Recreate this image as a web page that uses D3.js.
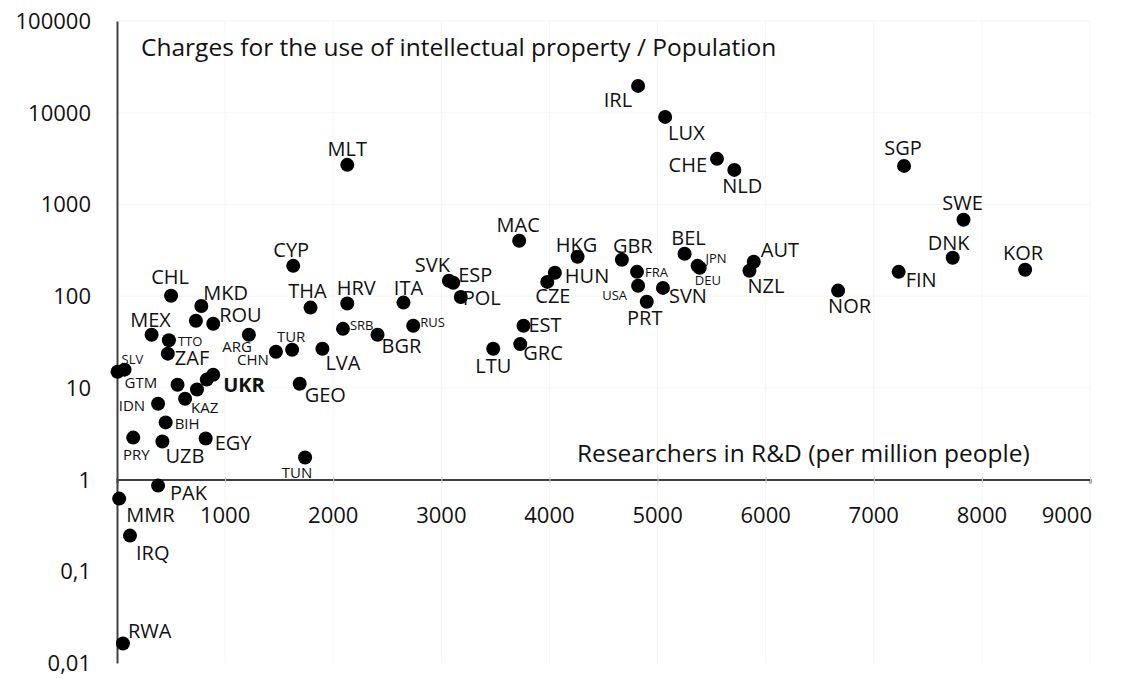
<!DOCTYPE html>
<html lang="en">
<head>
    <meta charset="UTF-8">
    <title>Researchers vs IP charges</title>
    <script src="https://cdn.jsdelivr.net/npm/d3@7"></script>
    <style>
        body {
            margin: 0;
            background: white;
        }

        text {
            font-family: "Open Sans", "Noto Sans", sans-serif;
            fill: #111;
        }
    </style>
</head>
<body>

<svg id="chart" width="1125" height="679"></svg>

<script>
    // data
    let countries = ["MLT", "IRL", "LUX", "CHE", "NLD", "SGP", "SWE", "DNK", "KOR", "FIN",
        "NOR", "NZL", "AUT", "BEL", "JPN", "DEU", "GBR", "FRA", "USA", "SVN",
        "PRT", "HKG", "HUN", "CZE", "MAC", "EST", "GRC", "LTU", "SVK", "ESP",
        "POL", "ITA", "HRV", "THA", "CYP", "SRB", "BGR", "RUS", "LVA", "GEO",
        "TUR", "CHN", "ARG", "TTO", "ZAF", "MEX", "CHL", "MKD", "ROU", "",
        "SLV", "GTM", "UKR", "", "", "", "KAZ", "IDN", "BIH", "PRY",
        "UZB", "EGY", "TUN", "PAK", "MMR", "IRQ", "RWA"]
    let researchers = [2130, 4820, 5070, 5550, 5710, 7280, 7830, 7730, 8400, 7230,
        6670, 5850, 5890, 5250, 5370, 5390, 4670, 4810, 4820, 5050,
        4900, 4260, 4050, 3980, 3720, 3760, 3730, 3480, 3070, 3110,
        3180, 2650, 2130, 1790, 1630, 2090, 2410, 2740, 1900, 1690,
        1620, 1470, 1220, 480, 470, 320, 500, 780, 890, 730,
        70, 5, 890, 830, 740, 560, 630, 380, 450, 150,
        420, 820, 1740, 380, 20, 120, 55]
    let charges = [2700, 19600, 9000, 3140, 2380, 2630, 680, 262, 194, 184,
        115, 189, 237, 290, 214, 204, 249, 184, 130, 123,
        87, 269, 180, 143, 402, 47.6, 30, 26.7, 147, 140,
        98, 85, 83, 75, 214, 44, 38, 47.6, 26.7, 11.1,
        26, 24.8, 38, 33, 23.6, 38, 101, 78, 50, 54,
        15.8, 15, 13.9, 12.3, 9.6, 10.8, 7.6, 6.7, 4.2, 2.87,
        2.6, 2.8, 1.74, 0.86, 0.62, 0.245, 0.0163]

    let xTicks = [1000, 2000, 3000, 4000, 5000, 6000, 7000, 8000, 9000]
    let yTicks = [0.01, 0.1, 1, 10, 100, 1000, 10000, 100000]
    let yTickLabels = ["0,01", "0,1", "1", "10", "100", "1000", "10000", "100000"]

    // label placement: anchor, dx, dy (baseline), size class
    let labelPos = {
        MLT: ["middle", 0, -9, "L"], IRL: ["end", -6, 21, "L"], LUX: ["start", 3, 23, "L"],
        CHE: ["end", -10, 13, "L"], NLD: ["start", -12, 23, "L"], SGP: ["middle", -1, -11, "L"],
        SWE: ["middle", -1, -10, "L"], DNK: ["middle", -4, -8, "L"], KOR: ["middle", -2, -10, "L"],
        FIN: ["start", 7, 15, "L"], NOR: ["start", -10, 22, "L"], NZL: ["start", -2, 22, "L"],
        AUT: ["start", 7, -5, "L"], BEL: ["middle", 4, -9, "L"], JPN: ["start", 8, -3, "S"],
        DEU: ["start", -5, 17, "S"], GBR: ["start", -9, -7, "L"], FRA: ["start", 8, 5, "S"],
        USA: ["end", -11, 14, "S"], SVN: ["start", 6, 15, "L"], PRT: ["middle", -2, 23, "L"],
        HKG: ["middle", -1, -5, "L"], HUN: ["start", 10, 10, "L"], CZE: ["start", -12, 21, "L"],
        MAC: ["middle", -1, -9, "L"], EST: ["start", 5, 6, "L"], GRC: ["start", 3, 16, "L"],
        LTU: ["middle", 0, 24, "L"], SVK: ["end", 1, -9, "L"], ESP: ["start", 5, -1, "L"],
        POL: ["start", 2, 8, "L"], ITA: ["middle", 5, -8, "L"], HRV: ["middle", 9, -9, "L"],
        THA: ["middle", -3, -10, "L"], CYP: ["middle", -2, -9, "L"], SRB: ["start", 7, 1, "S"],
        BGR: ["start", 4, 18, "L"], RUS: ["start", 7, 1, "S"], LVA: ["start", 3, 21, "L"],
        GEO: ["start", 5, 18, "L"], TUR: ["middle", -1, -8, "M"], CHN: ["end", -7, 13, "M"],
        ARG: ["end", 3, 17, "M"], TTO: ["start", 9, 6, "S"], ZAF: ["start", 7, 11, "L"],
        MEX: ["middle", -1, -8, "L"], CHL: ["middle", -1, -12, "L"], MKD: ["start", 2, -6, "L"],
        ROU: ["start", 6, -2, "L"], SLV: ["start", -3, -6, "S"], GTM: ["start", 7, 16, "M"],
        UKR: ["start", 10, 17, "B"], KAZ: ["start", 6, 14, "M"], IDN: ["end", -13, 7, "M"],
        BIH: ["start", 9, 7, "M"], PRY: ["middle", 3, 22, "M"], UZB: ["start", 3, 21, "L"],
        EGY: ["start", 9, 11, "L"], TUN: ["middle", -8, 20, "M"], PAK: ["start", 12, 14, "L"],
        MMR: ["start", 7, 23, "L"], IRQ: ["start", 6, 24, "L"], RWA: ["start", 5, -6, "L"]
    }
    let fontSizes = {L: "20px", M: "15px", S: "13px", B: "20px"}

    let svg = d3.select("#chart")
    svg.append("rect").attr("width", 1125).attr("height", 679).attr("fill", "white")

    let x = d3.scaleLinear().domain([0, 9000]).range([117, 1090])
    let y = d3.scaleLog().domain([0.01, 100000]).range([663, 21])

    // faint grid
    svg.append("g").selectAll("line").data(xTicks).join("line")
        .attr("x1", d => x(d)).attr("x2", d => x(d))
        .attr("y1", y(100000)).attr("y2", y(0.01))
        .attr("stroke", "#f5f5f5").attr("stroke-width", 1)
    svg.append("g").selectAll("line").data(yTicks.slice(3)).join("line")
        .attr("x1", x(0)).attr("x2", x(9000))
        .attr("y1", d => y(d)).attr("y2", d => y(d))
        .attr("stroke", "#f5f5f5").attr("stroke-width", 1)

    // x axis crossing at 1
    let xAxis = svg.append("g")
        .attr("transform", "translate(0," + y(1) + ")")
        .call(d3.axisBottom(x).tickValues(xTicks).tickSize(4).tickFormat(""))
    xAxis.select(".domain").attr("stroke", "#404040").attr("stroke-width", 2)
    xAxis.selectAll(".tick line").attr("stroke", "#d0d0d0").attr("y1", -3)

    svg.append("g").selectAll("text").data(xTicks).join("text")
        .attr("x", (d, i) => i === xTicks.length - 1 ? x(d) + 2 : x(d))
        .attr("y", y(1) + 43)
        .attr("text-anchor", (d, i) => i === xTicks.length - 1 ? "end" : "middle")
        .style("font-size", "22px")
        .text(d => d)

    // y axis
    let yAxis = svg.append("g")
        .attr("transform", "translate(" + x(0) + ",0)")
        .call(d3.axisLeft(y).tickValues(yTicks).tickSize(0).tickFormat(""))
    yAxis.select(".domain").attr("stroke", "#404040").attr("stroke-width", 2)

    svg.append("g").selectAll("text").data(yTicks).join("text")
        .attr("x", 91)
        .attr("y", d => y(d) + 8)
        .attr("text-anchor", "end")
        .style("font-size", "22px")
        .text((d, i) => yTickLabels[i])

    // axis titles
    svg.append("text").attr("x", 141).attr("y", 56)
        .style("font-size", "24.5px")
        .text("Charges for the use of intellectual property / Population")
    svg.append("text").attr("x", 577).attr("y", 462)
        .style("font-size", "24.5px")
        .text("Researchers in R&D (per million people)")

    // points
    svg.append("g").selectAll("circle").data(countries).join("circle")
        .attr("cx", (d, i) => x(researchers[i]))
        .attr("cy", (d, i) => y(charges[i]))
        .attr("r", 7)
        .attr("fill", "black")

    // labels
    svg.append("g").selectAll("text").data(countries.filter(c => c !== "")).join("text")
        .attr("x", d => x(researchers[countries.indexOf(d)]) + labelPos[d][1])
        .attr("y", d => y(charges[countries.indexOf(d)]) + labelPos[d][2])
        .attr("text-anchor", d => labelPos[d][0])
        .style("font-size", d => fontSizes[labelPos[d][3]])
        .style("font-weight", d => labelPos[d][3] === "B" ? "bold" : "normal")
        .text(d => d)
</script>

</body>
</html>
